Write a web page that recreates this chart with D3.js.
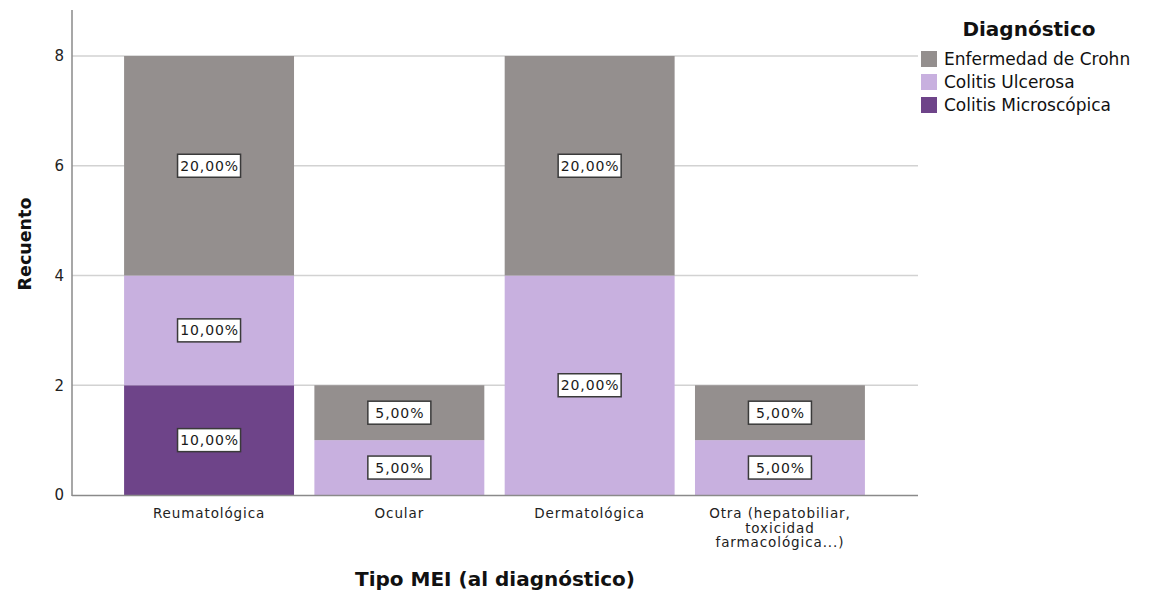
<!DOCTYPE html>
<html>
<head>
<meta charset="utf-8">
<title>Tipo MEI</title>
<script src="https://d3js.org/d3.v7.min.js"></script>
<style>
  body { margin: 0; background: #fff; }
  svg { display: block; font-family: "DejaVu Sans", sans-serif; }
</style>
</head>
<body>
<svg width="1150" height="593"></svg>
<script>
// data
var categories = ["Reumatológica", "Ocular", "Dermatológica", "Otra (hepatobiliar, toxicidad farmacológica...)"];
var catLines = [["Reumatológica"], ["Ocular"], ["Dermatológica"], ["Otra (hepatobiliar,", "toxicidad", "farmacológica...)"]];
var seriesNames = ["Colitis Microscópica", "Colitis Ulcerosa", "Enfermedad de Crohn"];
var colitisMicro = [2, 0, 0, 0];
var colitisUlc = [2, 1, 4, 1];
var crohn = [4, 1, 4, 1];
var yTicks = [0, 2, 4, 6, 8];
var colors = ["#6e4489", "#c8b0df", "#948f8e"];

var svg = d3.select("svg");
var total = d3.sum(colitisMicro) + d3.sum(colitisUlc) + d3.sum(crohn);

var rows = categories.map(function(c, i) {
  return { cat: c, cm: colitisMicro[i], cu: colitisUlc[i], ec: crohn[i] };
});
var layers = d3.stack().keys(["cm", "cu", "ec"])(rows);

var x = d3.scaleBand().domain(categories).range([114, 875]).paddingInner(0.107).paddingOuter(0.053);
var y = d3.scaleLinear().domain([0, 8]).range([495, 56]);

// gridlines
svg.append("g").selectAll("line")
  .data(yTicks.filter(function(d) { return d > 0; }))
  .enter().append("line")
  .attr("x1", 72).attr("x2", 918)
  .attr("y1", function(d) { return y(d); })
  .attr("y2", function(d) { return y(d); })
  .attr("stroke", "#d2d2d2").attr("stroke-width", 1.3);

// bars
var gl = svg.append("g").selectAll("g")
  .data(layers)
  .enter().append("g")
  .attr("fill", function(d, i) { return colors[i]; });

gl.selectAll("rect")
  .data(function(d) { return d; })
  .enter().append("rect")
  .attr("x", function(d) { return x(d.data.cat); })
  .attr("width", x.bandwidth())
  .attr("y", function(d) { return y(d[1]); })
  .attr("height", function(d) { return y(d[0]) - y(d[1]); });

// value labels
var labels = [];
layers.forEach(function(layer) {
  layer.forEach(function(d) {
    var v = d[1] - d[0];
    if (v > 0) labels.push({ cat: d.data.cat, mid: (d[0] + d[1]) / 2, v: v });
  });
});
var lg = svg.append("g").selectAll("g")
  .data(labels)
  .enter().append("g")
  .attr("transform", function(d) {
    return "translate(" + (x(d.cat) + x.bandwidth() / 2) + "," + y(d.mid) + ")";
  });
lg.append("rect")
  .attr("x", -31.5).attr("y", -11.5).attr("width", 63).attr("height", 23)
  .attr("fill", "#fff").attr("stroke", "#3a3a3a").attr("stroke-width", 1.5);
lg.append("text")
  .attr("text-anchor", "middle").attr("dy", "0.36em").attr("x", 0.5)
  .attr("font-size", "14px").attr("letter-spacing", "0.9px").attr("fill", "#1a1a1a")
  .text(function(d) { return (d.v / total * 100).toFixed(2).replace(".", ",") + "%"; });

// axes
svg.append("line").attr("x1", 72).attr("x2", 72).attr("y1", 10).attr("y2", 496)
  .attr("stroke", "#8a8a8a").attr("stroke-width", 1.5);
svg.append("line").attr("x1", 72).attr("x2", 918).attr("y1", 495.5).attr("y2", 495.5)
  .attr("stroke", "#8a8a8a").attr("stroke-width", 1.5);

svg.append("g").selectAll("text")
  .data(yTicks)
  .enter().append("text")
  .attr("x", 64).attr("y", function(d) { return y(d); })
  .attr("dy", "0.36em").attr("text-anchor", "end")
  .attr("font-size", "15px").attr("fill", "#222")
  .text(function(d) { return d; });

var ct = svg.append("g").selectAll("text")
  .data(categories)
  .enter().append("text")
  .attr("x", function(d) { return x(d) + x.bandwidth() / 2; })
  .attr("y", 518)
  .attr("text-anchor", "middle")
  .attr("font-size", "13.5px").attr("letter-spacing", "0.9px").attr("fill", "#222");
ct.selectAll("tspan")
  .data(function(d, i) { return catLines[i]; })
  .enter().append("tspan")
  .attr("x", function() { return d3.select(this.parentNode).attr("x"); })
  .attr("dy", function(d, i) { return i === 0 ? 0 : 14.5; })
  .text(function(d) { return d; });

// axis titles
svg.append("text")
  .attr("x", 495).attr("y", 586).attr("text-anchor", "middle")
  .attr("font-size", "20px").attr("font-weight", "bold").attr("fill", "#111")
  .text("Tipo MEI (al diagnóstico)");
svg.append("text")
  .attr("transform", "translate(31,244) rotate(-90)").attr("text-anchor", "middle")
  .attr("font-size", "17.5px").attr("font-weight", "bold").attr("fill", "#111")
  .text("Recuento");

// legend
svg.append("text")
  .attr("x", 1029).attr("y", 36).attr("text-anchor", "middle")
  .attr("font-size", "20px").attr("font-weight", "bold").attr("fill", "#111")
  .text("Diagnóstico");
var legendOrder = [2, 1, 0];
var leg = svg.append("g").selectAll("g")
  .data(legendOrder)
  .enter().append("g")
  .attr("transform", function(d, i) { return "translate(921," + (51 + i * 23) + ")"; });
leg.append("rect").attr("width", 16).attr("height", 16)
  .attr("fill", function(d) { return colors[d]; });
leg.append("text").attr("x", 23).attr("y", 8).attr("dy", "0.36em")
  .attr("font-size", "17px").attr("fill", "#111")
  .text(function(d) { return seriesNames[d]; });
</script>
</body>
</html>
